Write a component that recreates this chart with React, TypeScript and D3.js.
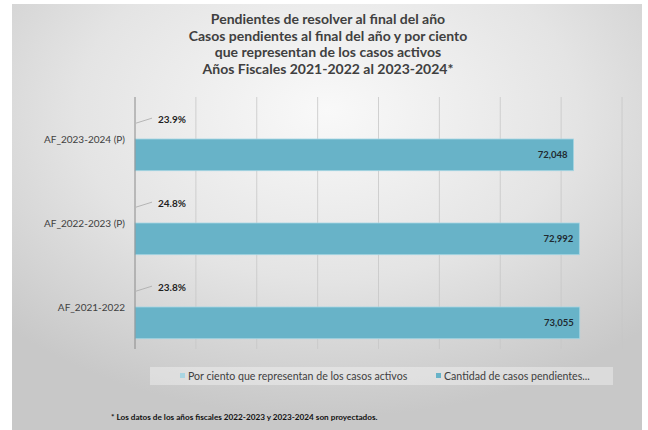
import { useRef, useEffect } from "react";
import * as d3 from "d3";

const categories = ["AF_2023-2024 (P)", "AF_2022-2023 (P)", "AF_2021-2022"];
const pendingCases = [72048, 72992, 73055];
const activePercent = [0.239, 0.248, 0.238];
const titleLines = [
  "Pendientes de resolver al final del año",
  "Casos pendientes al final del año y por ciento",
  "que representan de los casos activos",
  "Años Fiscales 2021-2022 al 2023-2024*",
];
const legendLabels = ["Por ciento que representan de los casos activos", "Cantidad de casos pendientes..."];
const footnote = "* Los datos de los años fiscales 2022-2023 y 2023-2024 son proyectados.";

const W = 648;
const H = 430;
const FONT = "Lato, 'Open Sans', sans-serif";

const App = () => {
  const ref = useRef<SVGSVGElement>(null);

  useEffect(() => {
    const svg = d3.select(ref.current);
    svg.selectAll("*").remove();

    const defs = svg.append("defs");
    const grad = defs
      .append("radialGradient")
      .attr("id", "bg")
      .attr("cx", "50%")
      .attr("cy", "25%")
      .attr("r", "72%");
    grad.append("stop").attr("offset", "0%").attr("stop-color", "#f9f9f9");
    grad.append("stop").attr("offset", "55%").attr("stop-color", "#e4e4e4");
    grad.append("stop").attr("offset", "100%").attr("stop-color", "#c8c8c8");

    svg.append("rect").attr("width", W).attr("height", H).attr("fill", "#ffffff");
    svg
      .append("rect")
      .attr("x", 12)
      .attr("y", 4)
      .attr("width", 630)
      .attr("height", H - 4)
      .attr("fill", "url(#bg)");

    // title
    svg
      .append("g")
      .selectAll("text")
      .data(titleLines)
      .enter()
      .append("text")
      .attr("x", 328)
      .attr("y", (_d, i) => 24 + i * 16.5)
      .attr("text-anchor", "middle")
      .attr("font-family", FONT)
      .attr("font-weight", 700)
      .attr("font-size", 14)
      .attr("fill", "#404040")
      .text(d => d);

    const left = 135;
    const right = 622;
    const top = 97;
    const bottom = 349;

    const x = d3.scaleLinear().domain([0, 80000]).range([left, right]);
    const y = d3.scaleBand<string>().domain(categories).range([top, bottom]).padding(0);
    const inner = d3
      .scaleBand<string>()
      .domain(["pct", "cnt"])
      .range([0, y.bandwidth()])
      .paddingInner(0)
      .paddingOuter(0.325);

    // gridlines
    svg
      .append("g")
      .selectAll("line")
      .data(x.ticks(8).filter(t => t > 0))
      .enter()
      .append("line")
      .attr("x1", d => x(d))
      .attr("x2", d => x(d))
      .attr("y1", top)
      .attr("y2", bottom)
      .attr("stroke", "#c6c6c6")
      .attr("stroke-width", 0.8);

    // count bars
    svg
      .append("g")
      .selectAll("rect")
      .data(categories)
      .enter()
      .append("rect")
      .attr("x", x(0))
      .attr("y", d => (y(d) as number) + (inner("cnt") as number))
      .attr("width", (_d, i) => x(pendingCases[i]) - x(0))
      .attr("height", inner.bandwidth())
      .attr("fill", "#68b3c8")
      .attr("stroke", "#a6d6e3")
      .attr("stroke-width", 0.8);

    // percent bars (near-zero width)
    svg
      .append("g")
      .selectAll("rect")
      .data(categories)
      .enter()
      .append("rect")
      .attr("x", x(0))
      .attr("y", d => (y(d) as number) + (inner("pct") as number))
      .attr("width", (_d, i) => x(activePercent[i]) - x(0))
      .attr("height", inner.bandwidth())
      .attr("fill", "#a9d5e2");

    // axis line
    svg
      .append("line")
      .attr("x1", left)
      .attr("x2", left)
      .attr("y1", top)
      .attr("y2", bottom)
      .attr("stroke", "#8a8a8a")
      .attr("stroke-width", 1);

    // category labels
    svg
      .append("g")
      .selectAll("text")
      .data(categories)
      .enter()
      .append("text")
      .attr("x", left - 10)
      .attr("y", d => (y(d) as number) + y.bandwidth() / 2)
      .attr("dy", "0.35em")
      .attr("text-anchor", "end")
      .attr("font-family", FONT)
      .attr("font-size", 10)
      .attr("fill", "#404040")
      .text(d => d);

    // count value labels
    svg
      .append("g")
      .selectAll("text")
      .data(categories)
      .enter()
      .append("text")
      .attr("x", (_d, i) => x(pendingCases[i]) - 6)
      .attr("y", d => (y(d) as number) + (inner("cnt") as number) + inner.bandwidth() / 2)
      .attr("dy", "0.35em")
      .attr("text-anchor", "end")
      .attr("font-family", FONT)
      .attr("font-weight", 700)
      .attr("font-size", 9.5)
      .attr("fill", "#1f2a30")
      .text((_d, i) => d3.format(",")(pendingCases[i]));

    // percent labels with leader lines
    const pctG = svg.append("g");
    categories.forEach((c, i) => {
      const cy = (y(c) as number) + (inner("pct") as number) + inner.bandwidth() / 2;
      const bx = x(activePercent[i]);
      pctG
        .append("line")
        .attr("x1", bx + 1)
        .attr("y1", cy)
        .attr("x2", bx + 17)
        .attr("y2", cy - 5)
        .attr("stroke", "#a8a8a8")
        .attr("stroke-width", 0.8);
      pctG
        .append("text")
        .attr("x", bx + 23)
        .attr("y", cy - 4)
        .attr("dy", "0.35em")
        .attr("font-family", FONT)
        .attr("font-weight", 700)
        .attr("font-size", 10)
        .attr("fill", "#1f1f1f")
        .text(d3.format(".1%")(activePercent[i]));
    });

    // legend
    const lg = svg.append("g");
    lg.append("rect")
      .attr("x", 150)
      .attr("y", 367)
      .attr("width", 463)
      .attr("height", 18)
      .attr("fill", "#ffffff")
      .attr("opacity", 0.35);
    const legendX = [180, 436];
    const legendColors = ["#a9d5e2", "#68b3c8"];
    legendLabels.forEach((lbl, i) => {
      lg.append("rect")
        .attr("x", legendX[i])
        .attr("y", 373)
        .attr("width", 5)
        .attr("height", 5)
        .attr("fill", legendColors[i]);
      lg.append("text")
        .attr("x", legendX[i] + 8)
        .attr("y", 376)
        .attr("dy", "0.35em")
        .attr("font-family", FONT)
        .attr("font-size", 10.6)
        .attr("fill", "#404040")
        .text(lbl);
    });

    // footnote
    svg
      .append("text")
      .attr("x", 111)
      .attr("y", 417)
      .attr("dy", "0.35em")
      .attr("font-family", FONT)
      .attr("font-weight", 700)
      .attr("font-size", 8.2)
      .attr("fill", "#111111")
      .text(footnote);
  }, []);

  return (
    <svg
      ref={ref}
      width={W}
      height={H}
      style={{ position: "absolute", left: 0, top: 0, display: "block" }}
    />
  );
};

export default App;
